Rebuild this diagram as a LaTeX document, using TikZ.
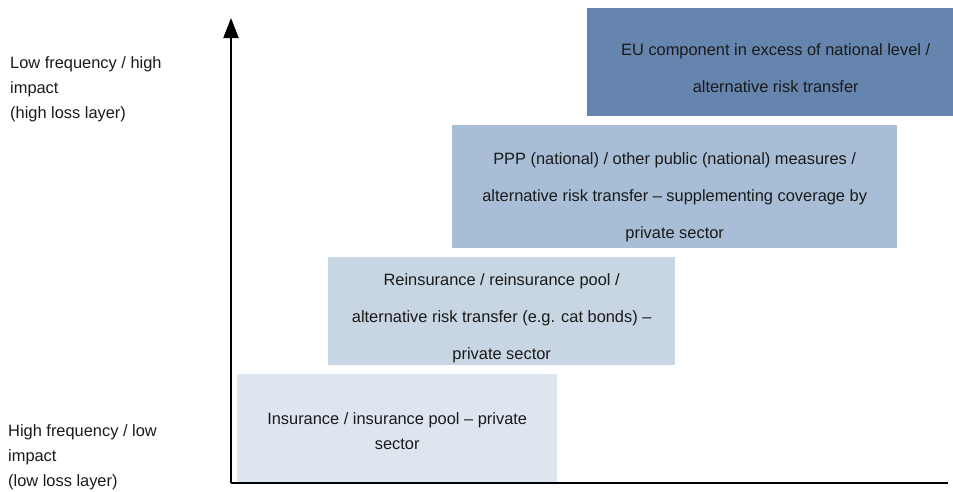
\documentclass[tikz,border=0pt]{standalone}
\usepackage{fontspec}
\setmainfont{Liberation Sans}
\usetikzlibrary{arrows.meta,positioning}

\definecolor{layerA}{RGB}{221,229,239}
\definecolor{layerB}{RGB}{200,213,227}
\definecolor{layerC}{RGB}{168,189,214}
\definecolor{layerD}{RGB}{101,133,174}
\definecolor{ink}{RGB}{26,26,26}

\begin{document}
\begin{tikzpicture}[
        x = 1pt, y = -1pt, % pixel grid, y downwards
        > = {Triangle[length=20pt, width=15pt]}, % axis arrow head
        layer/.style = {anchor=north west, inner sep=0pt, draw=none},
        layertext/.style = {align=center, inner sep=0pt, text=ink,
            font=\fontsize{16.4}{37}\selectfont},
        side/.style = {anchor=north west, align=left, inner sep=0pt, text=ink,
            font=\fontsize{16.4}{25}\selectfont}
        ]

        \useasboundingbox (0,0) rectangle (953,491);

        % layers, bottom to top
        \node[layer, fill=layerA, minimum width=320pt, minimum height=109pt] (ins) at (237,374) {};
        \node[layer, fill=layerB, minimum width=347pt, minimum height=108pt] (reins) at (328,257) {};
        \node[layer, fill=layerC, minimum width=445pt, minimum height=123pt] (ppp) at (452,125) {};
        \node[layer, fill=layerD, minimum width=366pt, minimum height=108pt] (eu) at (587,8) {};

        \node[layertext, font=\fontsize{16.4}{25}\selectfont] (insText) at ([yshift=-2pt]ins.center)
            {Insurance / insurance pool -- private\\sector};
        \node[layertext] (reinsText) at ([yshift=-7pt]reins.center)
            {Reinsurance / reinsurance pool /\\alternative risk transfer (e.g. cat bonds) --\\private sector};
        \node[layertext] (pppText) at ([yshift=-10.5pt]ppp.center)
            {PPP (national) / other public (national) measures /\\alternative risk transfer -- supplementing coverage by\\private sector};
        \node[layertext] (euText) at ([xshift=5.5pt, yshift=-6pt]eu.center)
            {EU component in excess of national level /\\alternative risk transfer};

        % axes
        \coordinate (origin) at (231,483);
        \coordinate (yTop) at (231,18);
        \coordinate (xEnd) at (948,483);
        \draw[line width=2pt, ->] (origin) -- (yTop);
        \draw[line width=2pt] (origin) -- (xEnd);

        % axis labels
        \node[side] (highLoss) at (10,56) {Low frequency / high\\impact\\(high loss layer)};
        \node[side] (lowLoss) at (8,424) {High frequency / low\\impact\\(low loss layer)};

\end{tikzpicture}
\end{document}
